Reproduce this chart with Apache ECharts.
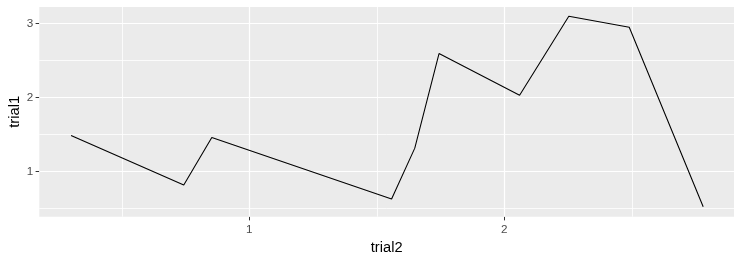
<!DOCTYPE html>
<html>
<head>
<meta charset="utf-8">
<script src="https://cdn.jsdelivr.net/npm/echarts@6/dist/echarts.min.js"></script>
<style>
html,body{margin:0;padding:0;background:#fff;}
#chart{width:742px;height:263px;}
</style>
</head>
<body>
<div id="chart"></div>
<script>
// Data
var trial2 = [0.301, 0.743, 0.853, 1.558, 1.649, 1.744, 2.060, 2.253, 2.490, 2.780];
var trial1 = [1.486, 0.815, 1.459, 0.626, 1.315, 2.595, 2.031, 3.099, 2.950, 0.522];
var xTicks = [1, 2];
var yTicks = [1, 2, 3];
var xMinor = [0.5, 1.5, 2.5];
var yMinor = [0.5, 1.5, 2.5];
var xRange = [0.1765, 2.9008];
var yRange = [0.387, 3.225];

var points = trial2.map(function (x, i) { return [x, trial1[i]]; });

var gridLines = [];
xMinor.forEach(function (v) { gridLines.push({xAxis: v, lineStyle: {color: '#ffffff', width: 0.8, type: 'solid'}}); });
yMinor.forEach(function (v) { gridLines.push({yAxis: v, lineStyle: {color: '#ffffff', width: 0.8, type: 'solid'}}); });
xTicks.forEach(function (v) { gridLines.push({xAxis: v, lineStyle: {color: '#ffffff', width: 1.2, type: 'solid'}}); });
yTicks.forEach(function (v) { gridLines.push({yAxis: v, lineStyle: {color: '#ffffff', width: 1.2, type: 'solid'}}); });

var chart = echarts.init(document.getElementById('chart'), null, {renderer: 'canvas'});
chart.setOption({
  animation: false,
  backgroundColor: '#ffffff',
  textStyle: {fontFamily: 'Liberation Sans, Arial, sans-serif'},
  grid: {
    left: 39.3, right: 8, top: 7, bottom: 46.3,
    containLabel: false,
    outerBoundsMode: 'none',
    show: true, backgroundColor: '#EBEBEB', borderWidth: 0
  },
  xAxis: {
    type: 'value',
    min: xRange[0], max: xRange[1],
    name: 'trial2',
    nameLocation: 'middle',
    nameGap: 22,
    nameTextStyle: {color: '#000000', fontSize: 14.67, fontFamily: 'Liberation Sans, Arial, sans-serif'},
    axisLine: {show: false},
    splitLine: {show: false},
    axisTick: {show: true, customValues: xTicks, length: 3.7, lineStyle: {color: '#333333', width: 1}},
    axisLabel: {customValues: xTicks, color: '#4D4D4D', fontSize: 11.7, margin: 7,
      fontFamily: 'Liberation Sans, Arial, sans-serif'}
  },
  yAxis: {
    type: 'value',
    min: yRange[0], max: yRange[1],
    name: 'trial1',
    nameLocation: 'middle',
    nameGap: 17,
    nameMoveOverlap: false,
    nameTextStyle: {color: '#000000', fontSize: 14.67, fontFamily: 'Liberation Sans, Arial, sans-serif'},
    axisLine: {show: false},
    splitLine: {show: false},
    axisTick: {show: true, customValues: yTicks, length: 3.7, lineStyle: {color: '#333333', width: 1}},
    axisLabel: {customValues: yTicks, color: '#4D4D4D', fontSize: 11.7, margin: 6,
      fontFamily: 'Liberation Sans, Arial, sans-serif'}
  },
  series: [
    {
      type: 'line',
      data: points,
      z: 1,
      symbol: 'none',
      silent: true,
      lineStyle: {opacity: 0},
      markLine: {
        silent: true,
        symbol: ['none', 'none'],
        label: {show: false},
        emphasis: {disabled: true},
        animation: false,
        data: gridLines
      }
    },
    {
      type: 'line',
      data: points,
      z: 5,
      symbol: 'none',
      silent: true,
      lineStyle: {color: '#000000', width: 1.07}
    }
  ]
});
</script>
</body>
</html>
